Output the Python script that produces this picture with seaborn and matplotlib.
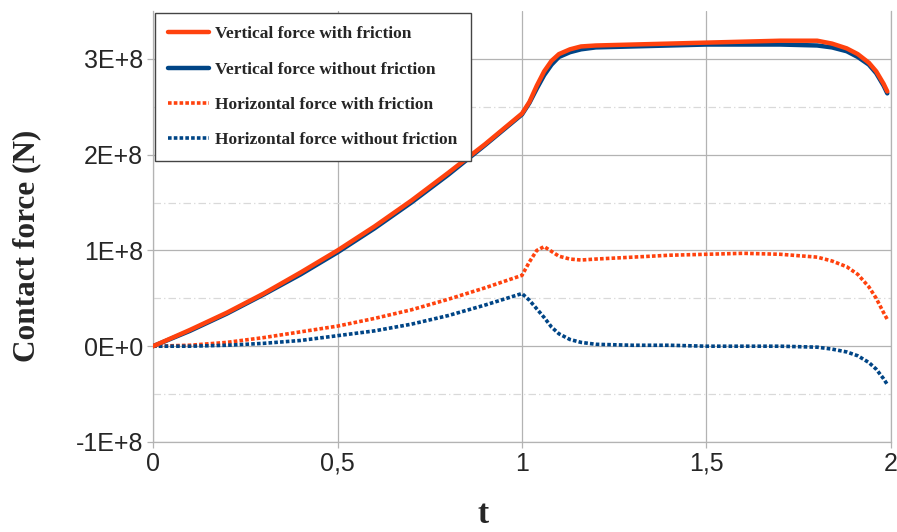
import numpy as np
import pandas as pd
import matplotlib
matplotlib.use('Agg')
import matplotlib.pyplot as plt
import seaborn as sns

# values (force in units of 1E+8 N)
t = [0.0, 0.1, 0.2, 0.3, 0.4, 0.5, 0.6, 0.7, 0.8, 0.9, 1.0,
     1.02, 1.04, 1.06, 1.08, 1.1, 1.13, 1.16, 1.2, 1.3, 1.4, 1.5,
     1.6, 1.7, 1.8, 1.84, 1.88, 1.91, 1.94, 1.96, 1.98, 1.99]

vert_fric = [0.0, 0.17, 0.35, 0.55, 0.77, 1.00, 1.25, 1.52, 1.81, 2.11, 2.43,
             2.55, 2.72, 2.87, 2.98, 3.05, 3.10, 3.13, 3.14, 3.15, 3.16, 3.17,
             3.18, 3.19, 3.19, 3.16, 3.11, 3.05, 2.96, 2.87, 2.74, 2.66]

vert_nofric = [0.0, 0.16, 0.34, 0.54, 0.75, 0.98, 1.23, 1.50, 1.79, 2.10, 2.42,
               2.54, 2.69, 2.83, 2.94, 3.02, 3.07, 3.10, 3.12, 3.13, 3.14, 3.15,
               3.15, 3.15, 3.14, 3.12, 3.08, 3.02, 2.94, 2.85, 2.72, 2.64]

horiz_fric = [0.0, 0.01, 0.04, 0.09, 0.15, 0.21, 0.29, 0.38, 0.49, 0.61, 0.74,
              0.88, 1.00, 1.04, 0.99, 0.94, 0.91, 0.90, 0.91, 0.93, 0.95, 0.96,
              0.97, 0.96, 0.93, 0.89, 0.83, 0.75, 0.62, 0.50, 0.35, 0.28]

horiz_nofric = [0.0, 0.0, 0.01, 0.03, 0.06, 0.11, 0.16, 0.23, 0.32, 0.43, 0.55,
                0.48, 0.39, 0.30, 0.20, 0.13, 0.07, 0.04, 0.02, 0.01, 0.01, 0.0,
                0.0, 0.0, -0.01, -0.03, -0.06, -0.10, -0.17, -0.24, -0.34, -0.40]

labels = ['Vertical force with friction', 'Vertical force without friction',
          'Horizontal force with friction', 'Horizontal force without friction']

yticks = [-1, 0, 1, 2, 3]
ytick_labels = ['-1E+8', '0E+0', '1E+8', '2E+8', '3E+8']
xticks = [0, 0.5, 1, 1.5, 2]
xtick_labels = ['0', '0,5', '1', '1,5', '2']

orange = '#ff420e'
blue = '#004586'

sns.set_theme(style='white')
plt.rcParams['font.family'] = ['Liberation Sans', 'DejaVu Sans']

fig = plt.figure(figsize=(8.97, 5.32), dpi=100)
ax = fig.add_axes([0.1706, 0.1692, 0.8227, 0.8101])

dot = (0, (1, 0.6))
sns.lineplot(x=t, y=vert_fric, color=orange, lw=3.2, label=labels[0], ax=ax, zorder=5)
sns.lineplot(x=t, y=vert_nofric, color=blue, lw=3.2, label=labels[1], ax=ax, zorder=4)
sns.lineplot(x=t, y=horiz_fric, color=orange, lw=2.6, linestyle=dot, label=labels[2], ax=ax, zorder=4)
sns.lineplot(x=t, y=horiz_nofric, color=blue, lw=2.6, linestyle=dot, label=labels[3], ax=ax, zorder=4)

ax.set_xlim(0, 2)
ax.set_ylim(-1, 3.5)
ax.set_xticks(xticks)
ax.set_xticklabels(xtick_labels)
ax.set_yticks(yticks)
ax.set_yticklabels(ytick_labels)
ax.set_yticks([-0.5, 0.5, 1.5, 2.5], minor=True)

ax.grid(True, which='major', color='#b3b3b3', lw=0.9)
ax.grid(True, which='minor', axis='y', color='#d9d9d9', lw=0.9, linestyle=(0, (6, 2.5, 1, 2.5)))
ax.set_axisbelow(True)

for side in ['left', 'bottom', 'right']:
    ax.spines[side].set_color('#b3b3b3')
    ax.spines[side].set_linewidth(0.9)
ax.spines['top'].set_visible(False)

ax.tick_params(axis='both', which='major', labelsize=18, length=4, width=0.9,
               color='#b3b3b3', direction='out', bottom=True, left=True, pad=3)
ax.tick_params(axis='y', which='minor', length=0)

ax.set_ylabel('Contact force (N)', fontsize=22.5, fontweight='bold', family='Liberation Serif')
ax.yaxis.set_label_coords(-0.152, 0.455)
ax.set_xlabel('t', fontsize=24, fontweight='bold', family='Liberation Serif')
ax.xaxis.set_label_coords(0.447, -0.132)

leg = ax.legend(loc='upper left', bbox_to_anchor=(0.002, 0.995), borderaxespad=0,
                prop={'family': 'Liberation Serif', 'weight': 'bold', 'size': 12.5},
                handlelength=2.4, handletextpad=0.35, labelspacing=1.1,
                borderpad=0.75, fancybox=False, framealpha=1)
leg.get_frame().set_edgecolor('#444444')
leg.get_frame().set_linewidth(1.0)

fig.savefig('out.png', dpi=100)
